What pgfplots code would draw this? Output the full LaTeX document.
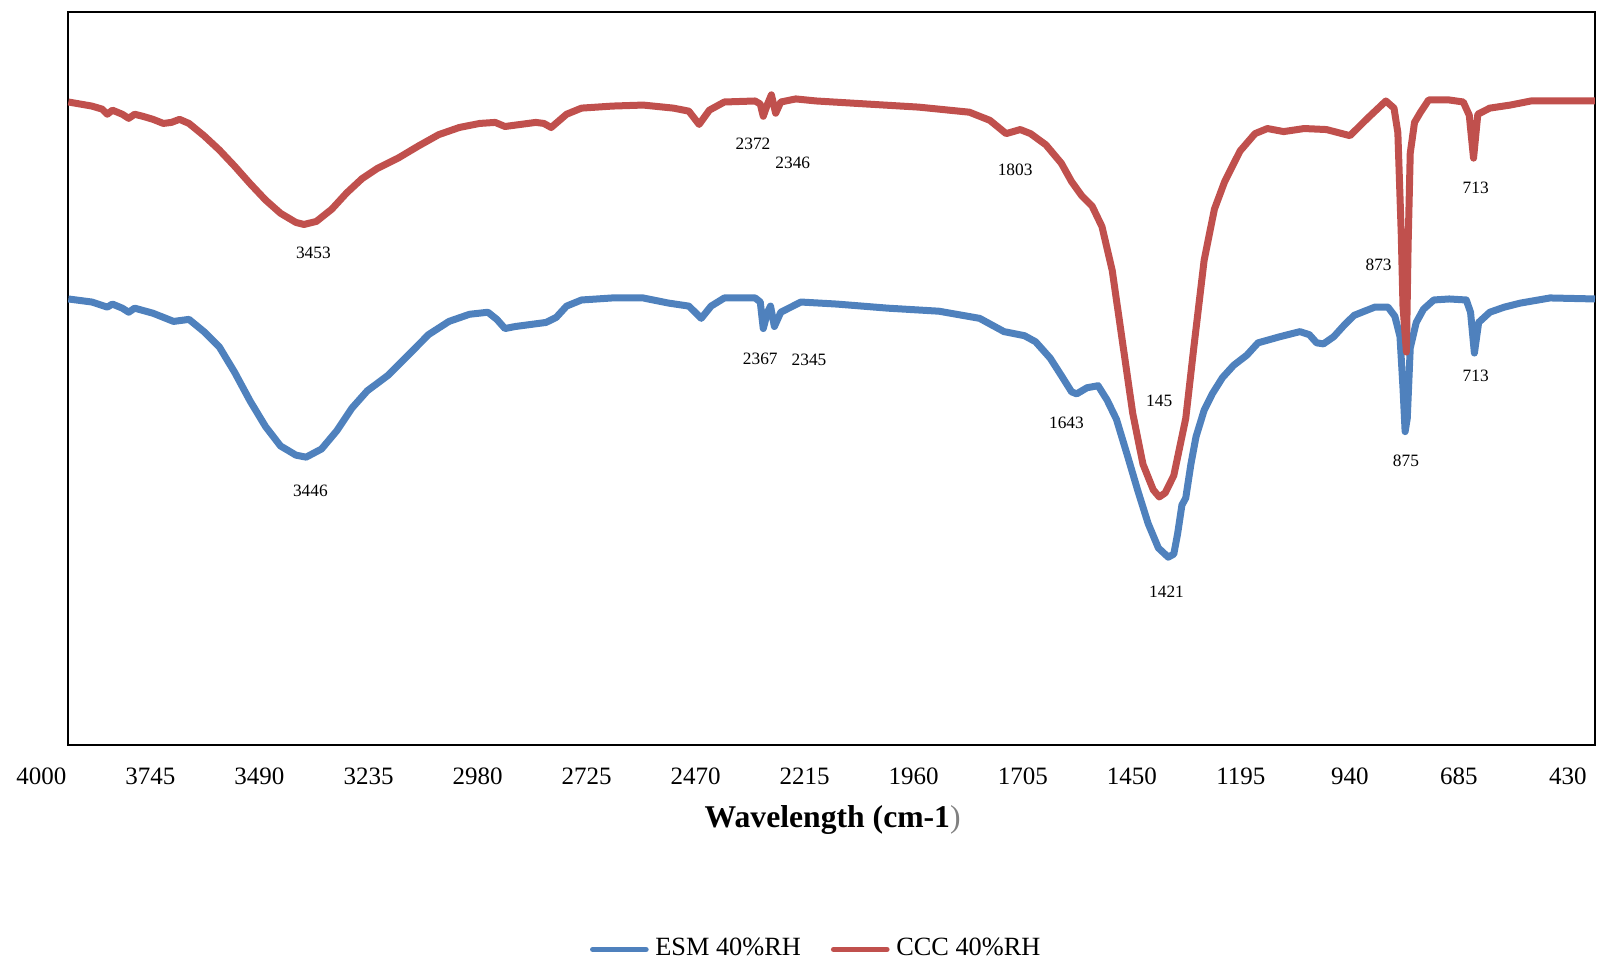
\documentclass[border=0pt]{standalone}
\usepackage{fontspec}
\setmainfont{Liberation Serif}
\usepackage{pgfplots}
\pgfplotsset{compat=1.18}
\definecolor{esm}{HTML}{4F81BD}
\definecolor{ccc}{HTML}{C0504D}
\newcommand\annot{\fontsize{5.2}{6}\selectfont}
\begin{document}
\begin{tikzpicture}
\begin{axis}[
  name=ax,
  scale only axis,
  width=458pt, height=219.84pt,
  x dir=reverse,
  xmin=430, xmax=4000,
  ymin=0, ymax=718,
  xtick={430,685,940,1195,1450,1705,1960,2215,2470,2725,2980,3235,3490,3745,4000},
  ytick=\empty,
  scaled x ticks=false,
  major tick length=0pt,
  /pgf/number format/assume math mode=true,
  /pgf/number format/1000 sep={},
  xticklabel style={font=\fontsize{7.5}{8}\selectfont, anchor=center, xshift=-8.1pt, yshift=-9.3pt},
  axis line style={line width=0.6pt},
  clip=false,
  legend columns=2,
  legend style={at={(0.4914,-0.279)}, anchor=center, draw=none, fill=none,
    font=\fontsize{7.9}{9}\selectfont,
    /tikz/every even column/.append style={column sep=7pt}},
  legend image code/.code={\draw[#1, line width=1.6pt, line cap=round] (0pt,0pt) -- (16pt,0pt);},
]
\addplot[esm, line width=2.1pt, line join=round] table {
4000 437
3945 434
3909 429
3897 432
3874 428
3859 424
3845 428
3802 423
3754 415
3718 417
3683 405
3647 390
3611 365
3575 337
3539 312
3504 293
3468 284
3444 282
3408 290
3372 308
3337 330
3301 347
3253 362
3205 382
3158 402
3110 415
3062 422
3019 424
2998 417
2979 408
2955 410
2919 412
2883 414
2859 419
2835 430
2800 436
2728 438
2656 438
2597 433
2549 430
2520 418
2497 430
2466 438
2394 438
2382 434
2375 408
2365 424
2358 430
2349 410
2334 424
2287 434
2203 432
2084 428
1964 425
1869 418
1812 405
1764 401
1738 395
1704 379
1678 362
1654 346
1642 344
1618 350
1592 352
1571 338
1549 319
1523 283
1499 249
1475 217
1451 193
1428 184
1415 187
1406 207
1396 235
1387 242
1375 275
1363 302
1344 328
1325 344
1301 360
1275 372
1244 382
1218 394
1167 400
1120 405
1098 402
1081 394
1065 393
1041 400
1015 412
993 421
945 429
914 429
898 420
886 400
879 350
874 307
869 320
862 389
848 414
831 427
807 436
771 437
731 436
721 424
712 384
702 414
676 424
642 429
604 433
535 438
430 437
};
\addlegendentry{ESM 40\%RH}
\addplot[ccc, line width=2.1pt, line join=round] table {
4000 630
3945 626
3921 623
3909 618
3897 622
3874 618
3859 614
3845 618
3826 616
3802 613
3778 609
3759 610
3740 613
3718 609
3683 597
3647 583
3611 567
3575 550
3539 534
3504 521
3468 512
3449 510
3420 513
3384 525
3349 541
3313 555
3277 565
3229 575
3181 587
3134 598
3086 605
3038 609
3002 610
2979 606
2943 608
2907 610
2888 609
2871 605
2835 618
2800 624
2728 626
2656 627
2585 624
2549 621
2525 608
2501 622
2466 630
2394 631
2382 628
2375 616
2365 628
2356 637
2346 619
2334 630
2299 633
2251 631
2132 628
2012 625
1893 620
1845 612
1807 599
1774 603
1750 599
1714 588
1678 570
1654 552
1630 538
1606 528
1583 508
1559 465
1535 395
1511 325
1487 275
1463 250
1449 243
1435 247
1415 264
1401 292
1387 320
1368 390
1344 475
1320 525
1296 552
1260 582
1225 599
1196 604
1158 601
1110 604
1058 603
1003 597
962 614
919 631
900 624
891 600
883 500
879 430
871 385
867 490
862 580
852 610
838 620
819 632
771 632
738 630
724 617
714 575
704 618
676 624
628 627
580 631
509 631
430 631
};
\addlegendentry{CCC 40\%RH}
\node[font=\annot] at (axis cs:3427,482) {3453};
\node[font=\annot] at (axis cs:2399,589) {2372};
\node[font=\annot] at (axis cs:2306,570) {2346};
\node[font=\annot] at (axis cs:1786,564) {1803};
\node[font=\annot] at (axis cs:709,546) {713};
\node[font=\annot] at (axis cs:936,470) {873};
\node[font=\annot] at (axis cs:1449,337) {145};
\node[font=\annot] at (axis cs:3434,249) {3446};
\node[font=\annot] at (axis cs:2382,378) {2367};
\node[font=\annot] at (axis cs:2268,377) {2345};
\node[font=\annot] at (axis cs:1666,316) {1643};
\node[font=\annot] at (axis cs:1432,150) {1421};
\node[font=\annot] at (axis cs:872,278) {875};
\node[font=\annot] at (axis cs:709,362) {713};
\node[anchor=base, font=\fontsize{9.5}{11}\selectfont, xshift=0.3pt, yshift=-24.8pt] at (rel axis cs:0.5,0) {\textbf{Wavelength (cm-1}\textcolor{gray}{)}};
\end{axis}
\pgfresetboundingbox
\path[use as bounding box] ([shift={(-20.52pt,-64.8pt)}]ax.south west) rectangle ([shift={(1.5pt,3.66pt)}]ax.north east);
\end{tikzpicture}
\end{document}
